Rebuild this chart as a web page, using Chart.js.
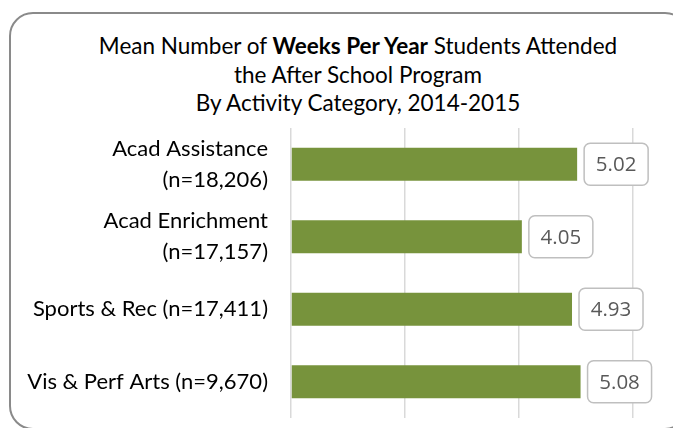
<!DOCTYPE html>
<html><head><meta charset="utf-8">
<script src="https://cdn.jsdelivr.net/npm/chart.js@4"></script>
<style>
html,body{margin:0;padding:0;background:#fff;width:673px;height:428px;overflow:hidden}
#frame{position:absolute;left:9px;top:12px;width:680px;height:418px;border:2px solid #8a8a8a;border-radius:24px;box-sizing:border-box}
#title{position:absolute;left:0;width:716px;top:32px;text-align:center;font-family:Lato,sans-serif;font-size:22.5px;line-height:28.5px;color:#000}
#wrap{position:absolute;left:0;top:0;width:673px;height:428px}
</style></head>
<body>
<div id="frame"></div>
<div id="title">Mean Number of <b>Weeks Per Year</b> Students Attended<br>the After School Program<br>By Activity Category, 2014-2015</div>
<div id="wrap"><canvas id="c" width="673" height="428"></canvas></div>
<script>
const categories = [["Acad Assistance", "(n=18,206)"], ["Acad Enrichment", "(n=17,157)"], "Sports & Rec (n=17,411)", "Vis & Perf Arts (n=9,670)"];
const weeks = [5.02, 4.05, 4.93, 5.08];
const xMin = 0, xMax = 6, xStep = 2;

const valueBoxes = {
  id: 'valueBoxes',
  afterDatasetsDraw(chart) {
    const ctx = chart.ctx;
    const meta = chart.getDatasetMeta(0);
    const ds = chart.data.datasets[0].data;
    ctx.save();
    meta.data.forEach((bar, i) => {
      const w = 64, h = 42;
      const x = bar.x + 7, y = bar.y - h / 2;
      ctx.beginPath();
      ctx.roundRect(x, y, w, h, 6);
      ctx.fillStyle = '#ffffff';
      ctx.fill();
      ctx.lineWidth = 1.5;
      ctx.strokeStyle = '#bfbfbf';
      ctx.stroke();
      ctx.fillStyle = '#595959';
      ctx.font = '20.5px "Open Sans"';
      ctx.textAlign = 'center';
      ctx.textBaseline = 'middle';
      ctx.fillText(ds[i].toFixed(2), x + w / 2, bar.y + 1);
    });
    ctx.restore();
  }
};

new Chart(document.getElementById('c'), {
  type: 'bar',
  data: {
    labels: categories,
    datasets: [{
      data: weeks,
      backgroundColor: '#77933c',
      borderWidth: 0,
      categoryPercentage: 1,
      barPercentage: 0.455
    }]
  },
  plugins: [valueBoxes],
  options: {
    indexAxis: 'y',
    responsive: false,
    devicePixelRatio: 1,
    animation: false,
    layout: { padding: { top: 128, bottom: 10, left: 0, right: 40 } },
    plugins: { legend: { display: false }, tooltip: { enabled: false }, title: { display: false } },
    scales: {
      x: {
        min: xMin, max: xMax,
        ticks: { display: false, stepSize: xStep },
        grid: { color: '#d9d9d9', lineWidth: 1.5, drawTicks: false },
        border: { display: false },
        afterFit(s) { s.height = 0; s.paddingLeft = 0; s.paddingRight = 0; }
      },
      y: {
        grid: { display: false, drawTicks: false },
        border: { display: false },
        ticks: { color: '#000', padding: 23, font: { family: 'Lato', size: 22, lineHeight: 1.4 } },
        afterFit(s) { s.width = 291; s.paddingTop = 0; s.paddingBottom = 0; }
      }
    }
  }
});
</script>
</body></html>
